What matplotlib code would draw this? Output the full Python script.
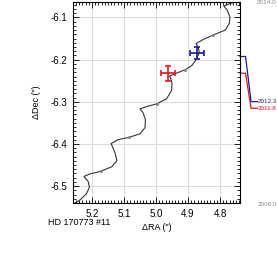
import matplotlib
matplotlib.use("Agg")
import matplotlib.pyplot as plt
from matplotlib.ticker import MultipleLocator

plt.rcParams["font.family"] = ["Liberation Sans", "DejaVu Sans"]

# model track: RA offset, Dec offset in arcsec
track_ra = [5.260, 5.2375, 5.217, 5.208, 5.211, 5.225, 5.206, 5.173, 5.138,
            5.122, 5.128, 5.140, 5.119, 5.083, 5.050, 5.034, 5.033, 5.041,
            5.050, 5.028, 4.998, 4.967, 4.951, 4.950, 4.955, 4.958, 4.936,
            4.909, 4.888, 4.873, 4.865, 4.868, 4.875, 4.852, 4.823, 4.784,
            4.771, 4.769, 4.777, 4.788, 4.769, 4.7375]
track_dec = [-6.543, -6.533, -6.518, -6.503, -6.490, -6.477, -6.471, -6.465,
             -6.454, -6.440, -6.421, -6.399, -6.390, -6.384, -6.376, -6.361,
             -6.342, -6.325, -6.317, -6.311, -6.305, -6.293, -6.273, -6.256,
             -6.242, -6.239, -6.232, -6.224, -6.214, -6.198, -6.183, -6.170,
             -6.162, -6.152, -6.142, -6.130, -6.114, -6.099, -6.083, -6.073,
             -6.067, -6.061]

# yearly markers on the track
year_ra = [5.173, 5.083, 4.998, 4.909, 4.823]
year_dec = [-6.465, -6.384, -6.305, -6.224, -6.142]

# measured positions
obs_label = ["2011.8", "2012.3"]
obs_epoch = [2011.88, 2012.38]
obs_ra = [4.961, 4.873]
obs_dec = [-6.232, -6.184]
obs_ra_err = [0.022, 0.022]
obs_dec_err = [0.0175, 0.015]
obs_color = ["#e8141c", "#1c1c9c"]

t_start, t_end = 2008.0, 2014.0
label_y = [0.472, 0.505]

fig = plt.figure(figsize=(2.77, 2.69), dpi=100)
ax = fig.add_axes([0.2625, 0.2454, 0.604, 0.746])

ax.plot(track_ra, track_dec, color="#333333", lw=0.8, zorder=2)
ax.plot(year_ra, year_dec, "o", color="#888888", ms=2.2, mew=0, zorder=3)

for i in range(len(obs_ra)):
    ax.errorbar(obs_ra[i], obs_dec[i], xerr=obs_ra_err[i], yerr=obs_dec_err[i],
                color=obs_color[i], lw=1.2, capsize=2.5, capthick=1.2, zorder=4)

ax.set_xlim(5.26, 4.7375)
ax.set_ylim(-6.54, -6.064)
ax.xaxis.set_major_locator(MultipleLocator(0.1))
ax.xaxis.set_minor_locator(MultipleLocator(0.01))
ax.yaxis.set_major_locator(MultipleLocator(0.1))
ax.yaxis.set_minor_locator(MultipleLocator(0.01))
ax.tick_params(which="both", direction="in", top=True, right=True,
               labelsize=7, width=0.6, pad=4)
ax.tick_params(which="major", length=4)
ax.tick_params(which="minor", length=2)
ax.xaxis.set_major_formatter(plt.FuncFormatter(lambda v, p: f"{v:.1f}"))
ax.yaxis.set_major_formatter(plt.FuncFormatter(lambda v, p: f"{v:.1f}"))
ax.grid(True, which="major", color="#dddddd", lw=0.8)
ax.set_axisbelow(True)
for s in ax.spines.values():
    s.set_linewidth(0.8)

ax.set_xlabel('ΔRA (")', fontsize=6.5, labelpad=3)
ax.set_ylabel('ΔDec (")', fontsize=6.5, labelpad=7)
ax.text(-0.145, -0.095, "HD 170773 #11", transform=ax.transAxes, fontsize=6.5,
        ha="left", va="center")

# epoch timeline on the right
ax.text(1.10, 1.0, f"{t_end:.1f}", transform=ax.transAxes, fontsize=4.6,
        color="#888888", ha="left", va="center")
ax.text(1.105, -0.01, f"{t_start:.1f}", transform=ax.transAxes, fontsize=4.6,
        color="#888888", ha="left", va="center")
for i in range(len(obs_epoch)):
    ty = (obs_epoch[i] - t_start) / (t_end - t_start)
    ax.plot([1.0, 1.033, 1.066, 1.105], [ty, ty, label_y[i], label_y[i]],
            color=obs_color[i], lw=0.9, transform=ax.transAxes, clip_on=False)
    ax.text(1.108, label_y[i], obs_label[i], transform=ax.transAxes,
            fontsize=4.5, color=obs_color[i], ha="left", va="center")

fig.savefig("out.png", dpi=100)
